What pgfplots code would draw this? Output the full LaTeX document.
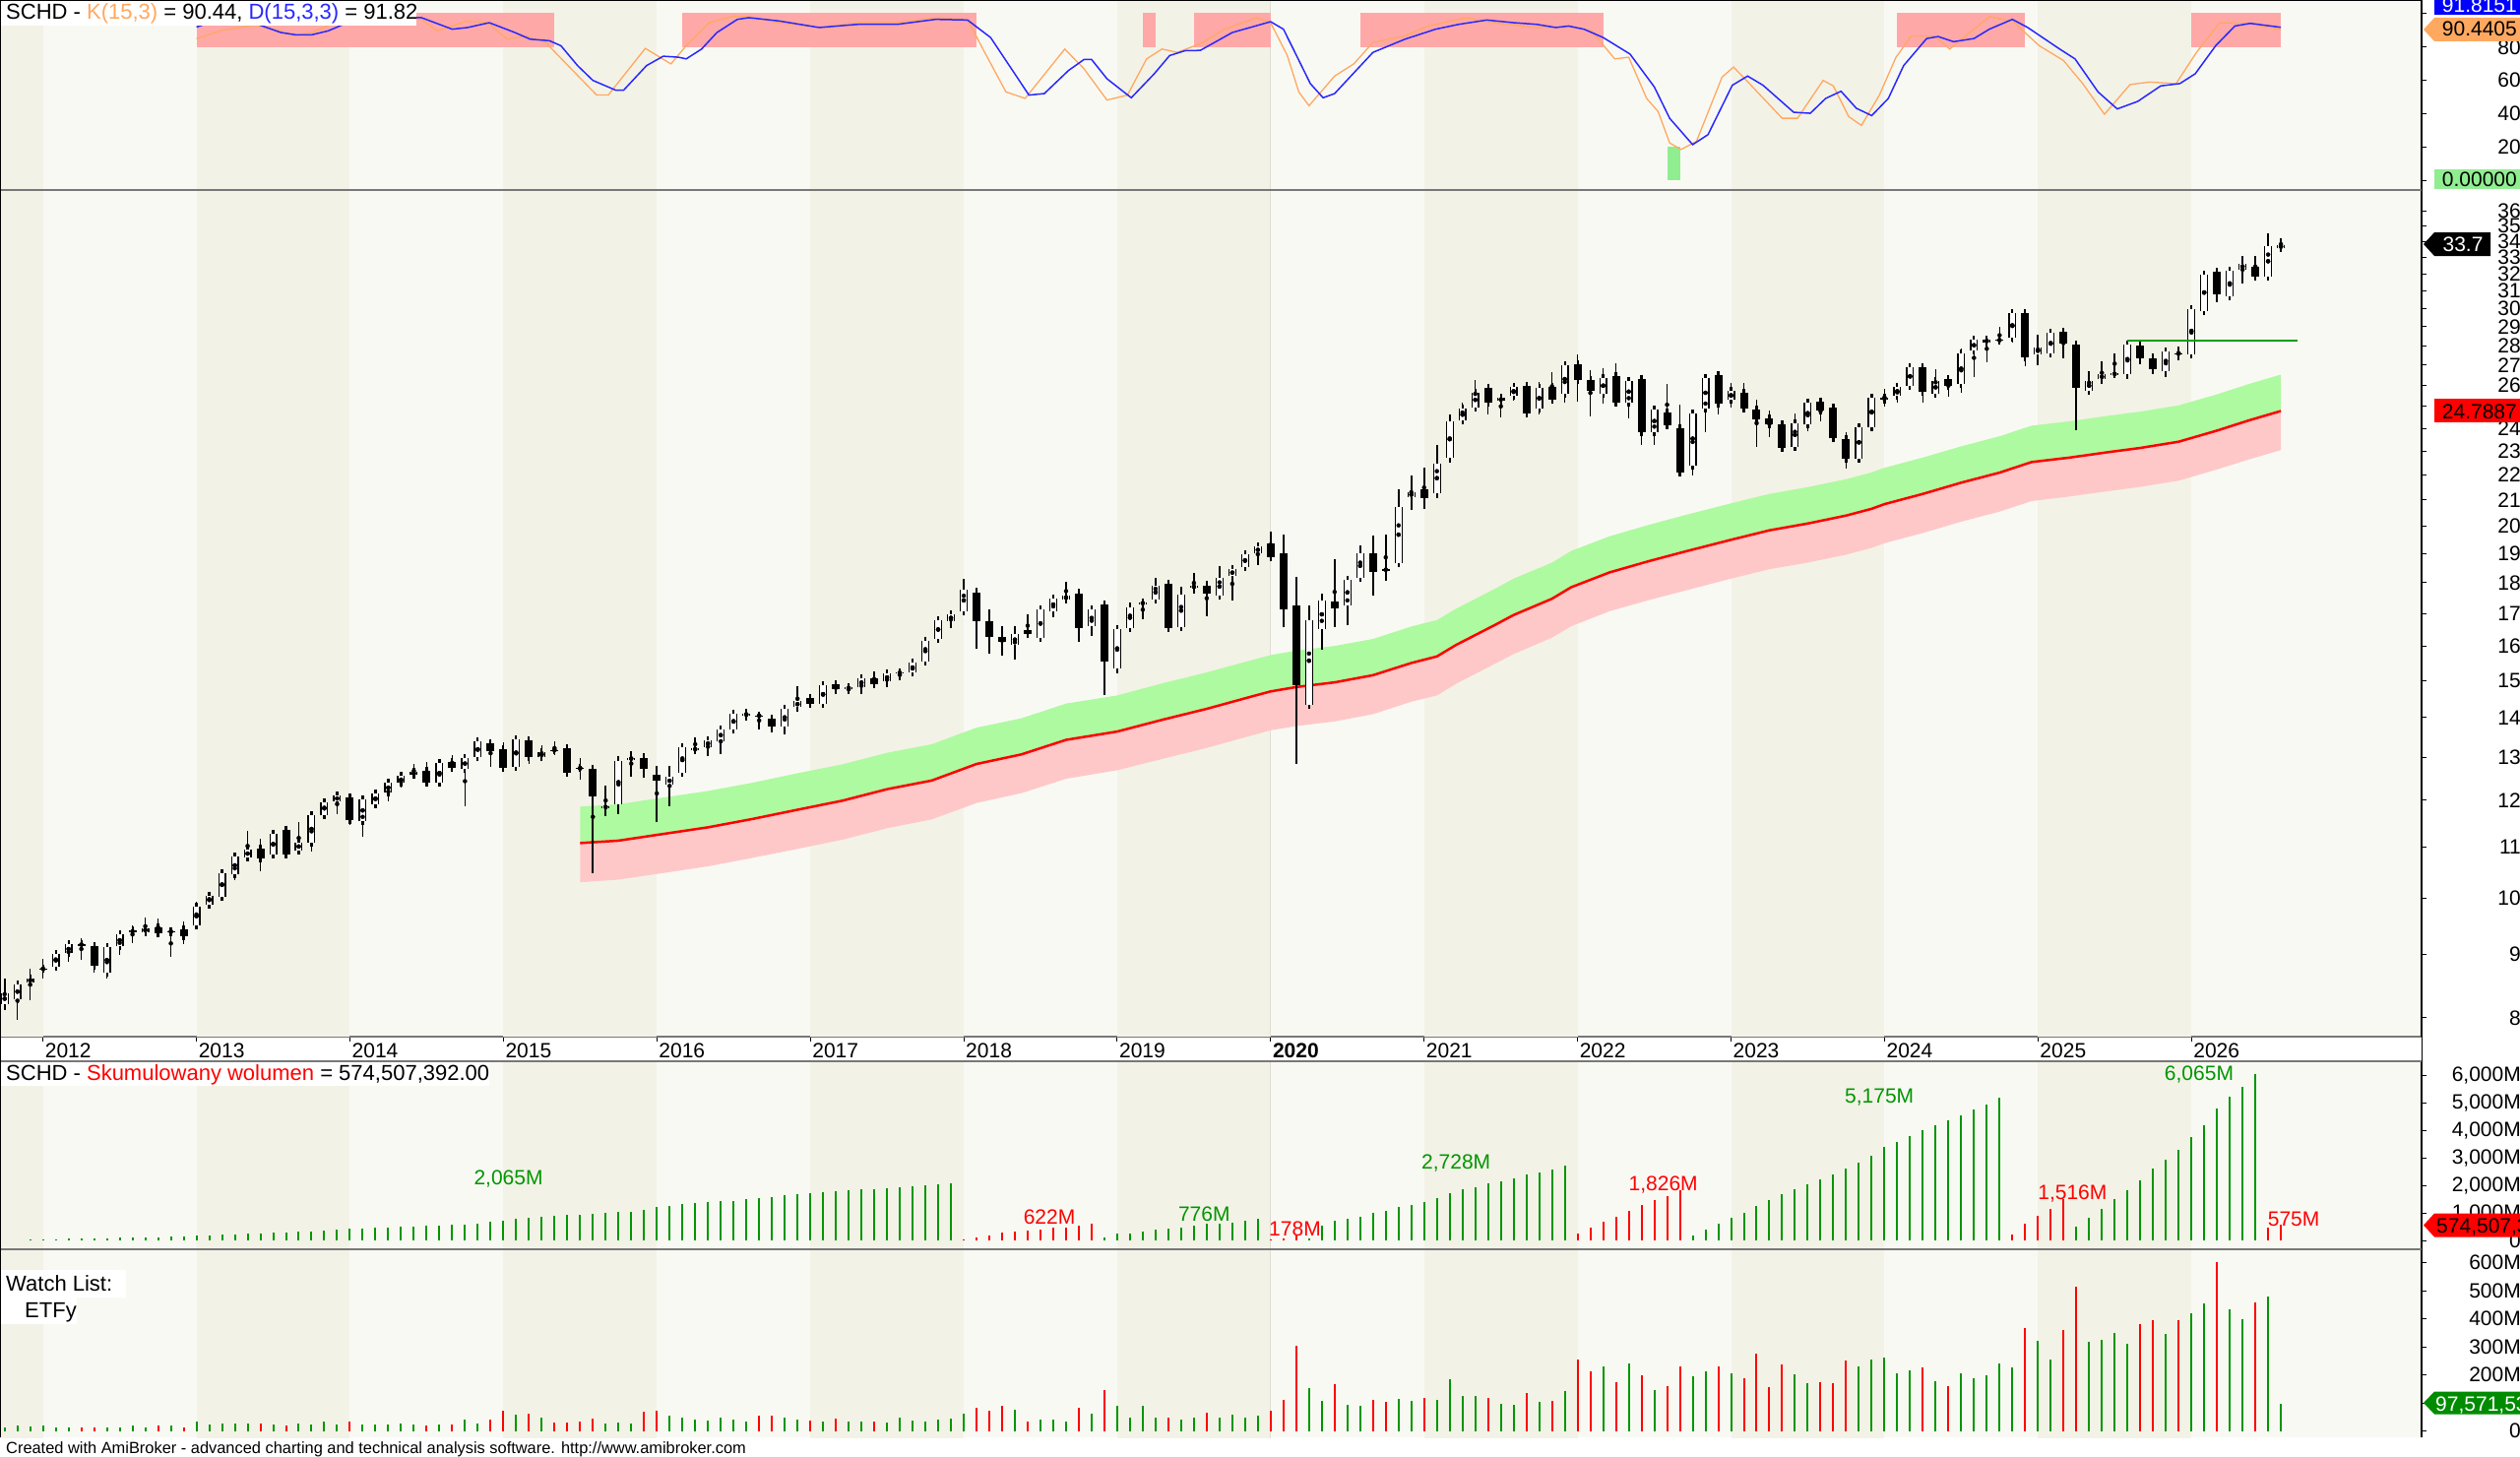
\documentclass[border=0pt]{standalone}
\usepackage{fontspec}
\setmainfont{Liberation Sans}
\usepackage{pgfplots}
\pgfplotsset{compat=1.18}
\usepackage{pgfplotstable}

\definecolor{bgL}{RGB}{249,249,244}
\definecolor{bgD}{RGB}{243,242,231}
\definecolor{kcol}{RGB}{255,168,96}
\definecolor{dcol}{RGB}{40,40,255}
\definecolor{pinkrect}{RGB}{255,168,168}
\definecolor{greenrect}{RGB}{144,238,144}
\definecolor{bandG}{RGB}{174,250,160}
\definecolor{bandP}{RGB}{255,200,200}
\definecolor{vgreen}{RGB}{0,150,0}
\definecolor{vred}{RGB}{255,0,0}
\definecolor{sep}{RGB}{120,120,120}
\definecolor{vline}{RGB}{222,222,212}
\definecolor{badgeorange}{RGB}{255,168,96}
\definecolor{badgegreen}{RGB}{144,238,144}
\definecolor{darkgreen}{RGB}{0,140,0}
\definecolor{hline}{RGB}{0,160,0}

\newcommand\fs{\fontsize{21}{25}\selectfont}
\newcommand\ft{\fontsize{22}{26}\selectfont}

\pgfplotstableread{
i o h l c v
0 8.21 8.60 8.12 8.37 14
1 8.28 8.55 7.97 8.52 18
2 8.55 8.76 8.26 8.61 15
3 8.76 8.93 8.60 8.77 20
4 8.80 9.06 8.78 9.01 13
5 9.02 9.21 8.88 9.17 12
6 9.18 9.28 8.91 9.16 11
7 9.15 9.22 8.71 8.81 13
8 8.70 9.14 8.61 9.12 13
9 9.14 9.41 8.99 9.35 14
10 9.39 9.50 9.19 9.41 18
11 9.39 9.64 9.34 9.45 12
12 9.47 9.62 9.32 9.36 18
13 9.39 9.41 8.97 9.40 18
14 9.43 9.57 9.17 9.32 14
15 9.50 9.94 9.46 9.84 32
16 9.88 10.11 9.85 10.05 22
17 10.02 10.50 10.02 10.48 25
18 10.46 10.80 10.34 10.80 27
19 10.79 11.33 10.71 10.94 25
20 10.97 11.16 10.52 10.77 26
21 10.85 11.32 10.78 11.27 22
22 11.36 11.38 10.85 10.85 20
23 10.93 11.52 10.85 11.09 27
24 11.08 11.74 10.91 11.67 23
25 11.68 12.04 11.63 11.96 35
26 11.98 12.14 11.69 12.10 22
27 12.06 12.08 11.46 11.56 32
28 11.54 12.06 11.21 12.01 23
29 11.90 12.19 11.89 12.16 22
30 12.18 12.42 11.97 12.39 23
31 12.39 12.57 12.28 12.55 25
32 12.58 12.85 12.50 12.65 23
33 12.67 12.89 12.40 12.40 20
34 12.39 12.87 12.31 12.86 22
35 12.88 13.05 12.69 12.74 23
36 12.72 13.00 11.87 12.98 41
37 13.00 13.45 12.92 13.39 28
38 13.35 13.43 12.77 13.16 41
39 13.20 13.37 12.74 12.74 73
40 12.78 13.49 12.70 13.45 58
41 13.43 13.49 12.85 13.01 61
42 13.00 13.29 12.90 13.12 49
43 13.18 13.39 13.06 13.17 29
44 13.23 13.24 12.63 12.63 29
45 12.75 12.98 12.48 12.74 32
46 12.73 12.80 10.47 12.08 43
47 11.83 12.34 11.65 11.87 28
48 11.90 13.02 11.70 12.92 29
49 12.96 13.16 12.54 12.98 28
50 12.99 13.11 12.52 12.73 70
51 12.58 12.79 11.52 12.44 73
52 12.35 12.79 11.86 12.54 55
53 12.62 13.35 12.60 13.25 47
54 13.17 13.49 13.15 13.23 41
55 13.25 13.49 13.03 13.43 37
56 13.40 13.72 13.07 13.70 47
57 13.70 14.20 13.59 14.11 40
58 14.08 14.22 13.93 14.09 32
59 14.06 14.15 13.70 14.04 53
60 13.98 14.00 13.62 13.77 55
61 13.77 14.33 13.57 14.24 47
62 14.27 14.85 14.15 14.44 40
63 14.52 14.54 14.33 14.36 37
64 14.37 14.92 14.30 14.88 35
65 14.91 14.96 14.64 14.76 43
66 14.76 14.88 14.64 14.82 35
67 14.82 15.07 14.64 15.07 35
68 15.07 15.27 14.82 14.91 32
69 14.99 15.22 14.83 15.19 29
70 15.21 15.32 15.00 15.23 47
71 15.22 15.56 15.12 15.52 37
72 15.54 16.27 15.54 16.16 35
73 16.21 16.83 16.16 16.79 40
74 16.76 17.08 16.55 16.96 43
75 17.08 18.12 17.02 17.76 61
76 17.68 17.83 15.91 16.74 84
77 16.74 17.12 15.77 16.28 73
78 16.28 16.61 15.71 16.11 90
79 16.03 16.61 15.61 16.35 76
80 16.48 16.98 16.25 16.35 35
81 16.25 17.15 16.22 17.12 40
82 17.08 17.58 16.87 17.49 40
83 17.45 18.03 17.42 17.57 35
84 17.64 17.79 16.11 16.55 81
85 16.59 17.23 16.31 17.12 63
86 17.30 17.30 14.59 15.54 146
87 15.33 16.57 15.21 16.52 88
88 16.55 17.36 16.50 17.18 49
89 17.30 17.42 16.82 17.36 90
90 17.45 18.18 17.42 17.91 49
91 17.98 18.00 16.53 16.55 47
92 16.57 17.88 16.53 17.61 41
93 17.83 18.34 17.65 17.90 49
94 17.91 18.07 16.90 17.65 65
95 17.57 18.57 17.46 18.18 49
96 18.23 18.51 17.42 18.46 57
97 18.54 19.03 18.52 18.97 47
98 19.01 19.37 18.60 19.27 55
99 19.37 19.80 18.85 18.87 72
100 19.00 19.70 16.58 17.12 111
101 17.25 18.21 12.84 14.88 304
102 14.34 17.25 14.30 16.79 151
103 16.52 17.64 15.89 17.42 108
104 17.37 18.81 16.58 17.17 166
105 17.27 18.21 16.63 18.09 92
106 18.16 19.29 18.09 19.00 88
107 19.00 19.64 17.57 18.35 111
108 18.46 19.70 18.05 18.43 104
109 18.66 21.44 18.62 20.72 113
110 21.10 21.99 20.62 21.32 108
111 21.44 22.32 20.67 21.07 116
112 21.27 23.25 21.07 22.48 111
113 22.73 24.61 22.50 24.31 186
114 24.36 25.18 24.26 24.88 123
115 24.97 26.24 24.94 25.65 125
116 25.90 25.99 24.61 25.18 117
117 25.26 25.51 24.50 25.40 96
118 25.51 26.10 25.26 25.93 92
119 25.98 26.05 24.50 24.69 135
120 24.88 26.15 24.64 25.88 105
121 25.93 26.65 25.26 25.30 108
122 25.60 27.15 25.18 27.01 143
123 27.06 27.56 25.23 26.25 256
124 26.28 26.75 24.53 25.76 213
125 25.60 26.84 25.13 26.38 230
126 26.47 27.10 25.15 25.18 175
127 25.18 26.33 24.45 26.22 242
128 26.33 26.38 23.25 23.85 199
129 23.81 24.91 23.25 24.85 146
130 24.74 26.06 24.10 24.15 160
131 24.00 25.10 22.10 22.12 230
132 22.40 24.80 22.00 24.69 195
133 24.91 26.42 23.85 26.38 213
134 26.50 26.55 24.64 25.13 230
135 25.30 26.10 24.97 25.72 205
136 25.65 26.10 24.85 24.88 187
137 24.85 25.30 23.17 24.40 275
138 24.45 24.80 23.60 24.18 157
139 24.20 24.26 23.05 23.14 236
140 23.20 24.67 23.02 24.23 201
141 24.20 25.30 23.89 25.18 172
142 25.22 25.26 24.31 24.80 174
143 24.94 25.02 23.41 23.56 172
144 23.51 23.85 22.26 22.66 251
145 22.69 24.15 22.63 24.07 230
146 24.05 25.50 24.03 25.40 256
147 25.31 25.85 25.00 25.43 260
148 25.51 26.13 25.20 25.93 205
149 25.96 26.96 25.93 26.92 216
150 26.92 26.96 25.20 25.68 228
151 25.60 26.79 25.51 26.22 178
152 26.33 26.50 25.48 25.96 160
153 26.05 27.85 25.63 27.60 205
154 27.74 28.33 26.41 28.31 187
155 28.18 28.54 27.14 28.31 198
156 28.28 29.00 28.10 28.30 242
157 28.41 29.91 28.18 29.75 228
158 29.75 29.79 26.97 27.39 368
159 27.56 28.58 27.02 27.91 322
160 27.60 28.67 27.53 28.67 254
161 28.72 28.91 27.36 28.10 359
162 28.04 28.06 23.91 25.88 515
163 25.76 26.71 25.55 26.22 318
164 26.30 27.18 26.05 26.54 324
165 26.55 27.60 26.55 26.58 350
166 26.57 28.15 26.33 28.04 309
167 28.01 28.01 27.06 27.36 382
168 27.36 27.60 26.54 26.80 394
169 26.71 27.78 26.41 27.71 344
170 27.62 27.96 27.27 27.56 394
171 27.56 30.03 27.36 30.00 418
172 29.85 32.04 29.80 31.98 455
173 32.12 32.12 30.36 30.80 602
174 30.67 32.28 30.46 32.22 433
175 32.28 33.10 31.43 32.64 400
176 32.45 33.10 31.80 31.86 458
177 31.86 34.50 31.86 33.68 478
178 33.60 34.21 33.45 33.75 98
}\ohlc

\pgfplotstableread{
i r
45 11.08
48 11.13
51 11.25
55 11.41
58.5 11.59
62 11.79
65.5 11.99
69 12.25
72.5 12.45
76 12.84
79.5 13.07
83 13.43
87 13.64
90.5 13.94
94 14.23
97.5 14.56
99 14.70
101 14.82
104 14.95
107 15.15
110 15.50
112 15.69
113.5 16.03
116.5 16.63
118 16.95
121 17.47
122.5 17.85
125.5 18.35
128.5 18.73
131.5 19.09
135 19.50
138 19.85
141 20.10
144 20.40
146 20.66
147 20.84
150 21.24
153 21.69
156 22.10
158.5 22.54
161.5 22.73
164.5 22.96
167 23.14
170 23.41
173 23.90
175.5 24.36
178 24.79
}\ma

\pgfplotstableread{
i v
15 85
17 90
19.5 93
21.6 89.7
22.5 86.7
24 88.7
25.2 92.6
27 97
29.3 98
32.6 96.6
33.8 89.7
36.2 95.6
37.8 94.6
39.3 84.7
40.8 86.7
42.3 82.8
44.8 63
46.3 51.2
47.2 51.2
50.1 79.2
52.1 69.9
53.3 80.8
55.1 94.6
57 98.6
58.2 98.2
60.6 94.6
63.7 91.7
66.7 94.6
69.8 94.6
72.8 97.6
75.3 96.6
76.5 78.8
78.3 53.1
79.8 49.2
82.9 78.8
84.4 67
86.2 48.2
87.8 51.2
89.3 72.9
90.5 78.8
91.7 76.8
93.5 82
95.4 90.7
97.9 97.6
99.0 94.6
100.3 74.9
101.2 53.1
102.0 44.8
104.0 62.6
105.5 69.9
107.0 82.8
109.5 86.7
111.3 92.6
114.3 97.6
116.8 94.2
119.8 91.7
122.3 92.2
124.1 89.7
125.9 72.9
127.0 73.9
128.4 49.2
129.3 41.3
130.2 22.5
131.1 18.6
132.3 23.5
134.3 62
135.2 68
136.3 59.2
139.0 37.3
140.2 37.3
142.2 60
143.0 56.7
144.2 38.3
145.2 33
146.6 51.2
147.9 73.9
149.1 86.7
150.9 86.7
152.1 78.8
153.4 87.1
155.2 98.2
157.0 95.6
159.1 80.8
161.0 71.9
162.5 58.1
164.2 39.7
166.2 57.5
167.7 59
169.8 58.1
171.4 76.8
173.2 94.6
175.3 94.2
178 90.44
}\Kt

\pgfplotstableread{
i v
15 92
17 97
19.8 93.6
21.6 88.7
22.8 87.3
24 87.3
25.3 89.7
26.5 93.6
28.5 97
31 98
32.6 97.6
35 90.7
36.2 91.7
37.9 94.6
39.9 88.7
41.1 84.7
42.6 83.8
43.5 80.8
44.8 68.9
46 60
47.8 54.1
48.4 54.1
50.2 68.9
51.5 74.5
52.7 73.9
53.3 72.9
54.5 78.8
55.7 88.7
57.3 96.6
58.2 97.6
60.6 95.6
63.7 91.7
66.7 93.6
69.8 93.6
72.8 96.6
75.3 96.2
77.1 85.7
78.9 65
80.1 51.2
81.3 52.1
83.2 66
84.4 72.5
85 72.5
86.2 61
88.1 49.6
89.9 64
91.1 74.9
92.3 77.8
93.5 78
96.0 88.7
99.0 95.2
100.0 90.7
100.9 76.8
102.1 58.1
103.1 49.6
104.0 52.1
105.2 62
107.0 76.8
109.5 84.7
111.9 90.7
113.7 93.6
115.9 96.2
118.0 94.6
119.8 93.6
121.3 91.7
122.3 92.6
123.5 90.7
125.0 85.7
127.1 75.8
129.0 56.1
130.2 37.3
132.0 21.5
133.2 27.5
135.1 57.1
136.3 62.6
137.5 57.1
139.9 40.9
141.2 40.3
142.4 49.2
143.6 53.5
144.8 43.3
146.0 38.9
147.3 49.2
148.5 68.9
150.3 85.1
151.2 86.3
152.4 83.2
154.0 85.1
155.2 90.7
157.0 96.6
158.2 91.7
160.7 78.8
161.9 72.9
163.7 53.1
165.2 42.9
166.8 47.4
168.6 56.7
170.1 58.1
171.3 64
172.9 80.8
174.4 92.6
175.6 94.2
178 91.82
}\Dt

\pgfplotstableread{
i cv g
2 36 1
3 48 1
4 48 1
5 60 1
6 60 1
7 71 1
8 71 1
9 95 1
10 95 1
11 107 1
12 119 1
13 131 1
14 143 1
15 167 1
16 190 1
17 202 1
18 214 1
19 238 1
20 262 1
21 286 1
22 298 1
23 310 1
24 333 1
25 357 1
26 393 1
27 417 1
28 429 1
29 452 1
30 476 1
31 488 1
32 512 1
33 524 1
34 536 1
35 560 1
36 583 1
37 619 1
38 667 1
39 726 1
40 774 1
41 821 1
42 869 1
43 893 1
44 917 1
45 940 1
46 976 1
47 1012 1
48 1036 1
49 1048 1
50 1095 1
51 1202 1
52 1250 1
53 1310 1
54 1345 1
55 1381 1
56 1417 1
57 1440 1
58 1488 1
59 1524 1
60 1560 1
61 1631 1
62 1667 1
63 1714 1
64 1750 1
65 1786 1
66 1810 1
67 1845 1
68 1857 1
69 1881 1
70 1929 1
71 1952 1
72 1988 1
73 2024 1
74 2065 1
75 24 0
76 119 0
77 179 0
78 274 0
79 321 0
80 357 0
81 381 0
82 452 0
83 460 0
84 536 0
85 622 0
86 119 1
87 238 1
88 262 1
89 321 1
90 393 1
91 417 1
92 476 1
93 524 1
94 595 1
95 620 1
96 655 1
97 714 1
98 776 1
99 24 0
100 83 0
101 178 0
102 83 1
103 536 1
104 714 1
105 774 1
106 869 1
107 1012 1
108 1071 1
109 1214 1
110 1298 1
111 1405 1
112 1524 1
113 1702 1
114 1845 1
115 1940 1
116 2060 1
117 2155 1
118 2262 1
119 2381 1
120 2476 1
121 2583 1
122 2728 1
123 238 0
124 452 0
125 690 0
126 857 0
127 1071 0
128 1286 0
129 1452 0
130 1607 0
131 1826 0
132 167 1
133 393 1
134 619 1
135 821 1
136 1012 1
137 1262 1
138 1452 1
139 1690 1
140 1869 1
141 2048 1
142 2226 1
143 2405 1
144 2619 1
145 2845 1
146 3095 1
147 3393 1
148 3571 1
149 3810 1
150 4024 1
151 4190 1
152 4369 1
153 4548 1
154 4762 1
155 4952 1
156 5175 1
157 202 0
158 595 0
159 893 0
160 1155 0
161 1516 0
162 500 1
163 833 1
164 1155 1
165 1488 1
166 1810 1
167 2179 1
168 2595 1
169 2917 1
170 3310 1
171 3750 1
172 4190 1
173 4786 1
174 5214 1
175 5595 1
176 6065 1
177 476 0
178 575 0
}\cum

\newcommand\bands[2]{%
  \addplot[fill=bgD, draw=none, forget plot] coordinates {(-2,#1)(3,#1)(3,#2)(-2,#2)};
  \addplot[fill=bgD, draw=none, forget plot] coordinates {(15,#1)(27,#1)(27,#2)(15,#2)};
  \addplot[fill=bgD, draw=none, forget plot] coordinates {(39,#1)(51,#1)(51,#2)(39,#2)};
  \addplot[fill=bgD, draw=none, forget plot] coordinates {(63,#1)(75,#1)(75,#2)(63,#2)};
  \addplot[fill=bgD, draw=none, forget plot] coordinates {(87,#1)(99,#1)(99,#2)(87,#2)};
  \addplot[fill=bgD, draw=none, forget plot] coordinates {(111,#1)(123,#1)(123,#2)(111,#2)};
  \addplot[fill=bgD, draw=none, forget plot] coordinates {(135,#1)(147,#1)(147,#2)(135,#2)};
  \addplot[fill=bgD, draw=none, forget plot] coordinates {(159,#1)(171,#1)(171,#2)(159,#2)};
  \addplot[vline, line width=1.2pt, forget plot] coordinates {(99,#1)(99,#2)};
}

\pgfplotsset{
  panel/.style={
    scale only axis, width=2460pt, xmin=-0.362, xmax=189.0,
    axis background/.style={fill=bgL},
    axis y line*=right,
    y axis line style={black, line width=1.5pt},
    ytick style={black, line width=1pt},
    tick align=outside, major tick length=5pt, minor tick length=0pt,
    scaled y ticks=false,
    yticklabel style={font=\fs, anchor=east, inner sep=0pt, xshift=96pt},
  },
}

\begin{document}
\begin{tikzpicture}
\fill[white] (0pt,0pt) rectangle (2560pt,-1480pt);
\path[use as bounding box] (0pt,0pt) rectangle (2560pt,-1480pt);

% ---------- stochastic panel ----------
\begin{axis}[panel, at={(0pt,0pt)}, anchor=north west, height=192pt,
  ymin=-5.1, ymax=108.2, axis x line=none,
  ytick={0,20,40,60,80,100}, yticklabels={,20,40,60,80,}]
\bands{-10}{120}
\addplot[fill=pinkrect, draw=none] coordinates {(15,80)(43,80)(43,100.5)(15,100.5)};
\addplot[fill=pinkrect, draw=none] coordinates {(53,80)(76,80)(76,100.5)(53,100.5)};
\addplot[fill=pinkrect, draw=none] coordinates {(89,80)(90,80)(90,100.5)(89,100.5)};
\addplot[fill=pinkrect, draw=none] coordinates {(93,80)(99,80)(99,100.5)(93,100.5)};
\addplot[fill=pinkrect, draw=none] coordinates {(106,80)(125,80)(125,100.5)(106,100.5)};
\addplot[fill=pinkrect, draw=none] coordinates {(148,80)(158,80)(158,100.5)(148,100.5)};
\addplot[fill=pinkrect, draw=none] coordinates {(171,80)(178,80)(178,100.5)(171,100.5)};
\addplot[fill=greenrect, draw=none] coordinates {(130,0)(131,0)(131,20)(130,20)};
\addplot[kcol, line width=1.3pt] table[x=i, y=v] {\Kt};
\addplot[dcol, line width=1.5pt] table[x=i, y=v] {\Dt};
\end{axis}

% ---------- price panel ----------
\begin{axis}[panel, at={(0pt,-193pt)}, anchor=north west, height=860pt,
  ymode=log, ymin=7.726, ymax=37.43,
  axis x line*=bottom, x axis line style={draw=sep, line width=1.5pt},
  xtick={3,15,27,39,51,63,75,87,99,111,123,135,147,159,171},
  xticklabels={2012,2013,2014,2015,2016,2017,2018,2019,\textbf{2020},2021,2022,2023,2024,2025,2026},
  xtick style={black, line width=1pt},
  xticklabel style={font=\fs, anchor=north west, inner sep=0pt, xshift=2pt, yshift=-2pt},
  ytick={8,9,10,11,12,13,14,15,16,17,18,19,20,21,22,23,24,25,26,27,28,29,30,31,32,33,34,35,36},
  yticklabels={8,9,10,11,12,13,14,15,16,17,18,19,20,21,22,23,24,25,26,27,28,29,30,31,32,33,34,35,36}]
\bands{5}{50}
% upper (green) half of the envelope
\addplot[fill=bandG, draw=none] coordinates {
(45,11.86)(48,11.91)(51,12.04)(55,12.21)(58.5,12.40)(62,12.62)(65.5,12.83)(69,13.11)(72.5,13.32)(76,13.74)(79.5,13.98)(83,14.37)(87,14.59)(90.5,14.92)(94,15.23)(97.5,15.58)(99,15.73)(101,15.86)(104,16.00)(107,16.21)(110,16.59)(112,16.79)(113.5,17.15)(116.5,17.79)(118,18.14)(121,18.69)(122.5,19.10)(125.5,19.63)(128.5,20.04)(131.5,20.43)(135,20.87)(138,21.24)(141,21.51)(144,21.83)(146,22.11)(147,22.30)(150,22.73)(153,23.21)(156,23.65)(158.5,24.12)(161.5,24.32)(164.5,24.57)(167,24.76)(170,25.05)(173,25.57)(175.5,26.07)(178,26.53)
(178,24.79)(175.5,24.36)(173,23.90)(170,23.41)(167,23.14)(164.5,22.96)(161.5,22.73)(158.5,22.54)(156,22.10)(153,21.69)(150,21.24)(147,20.84)(146,20.66)(144,20.40)(141,20.10)(138,19.85)(135,19.50)(131.5,19.09)(128.5,18.73)(125.5,18.35)(122.5,17.85)(121,17.47)(118,16.95)(116.5,16.63)(113.5,16.03)(112,15.69)(110,15.50)(107,15.15)(104,14.95)(101,14.82)(99,14.70)(97.5,14.56)(94,14.23)(90.5,13.94)(87,13.64)(83,13.43)(79.5,13.07)(76,12.84)(72.5,12.45)(69,12.25)(65.5,11.99)(62,11.79)(58.5,11.59)(55,11.41)(51,11.25)(48,11.13)(45,11.08)};
% lower (pink) half of the envelope
\addplot[fill=bandP, draw=none] coordinates {
(45,11.08)(48,11.13)(51,11.25)(55,11.41)(58.5,11.59)(62,11.79)(65.5,11.99)(69,12.25)(72.5,12.45)(76,12.84)(79.5,13.07)(83,13.43)(87,13.64)(90.5,13.94)(94,14.23)(97.5,14.56)(99,14.70)(101,14.82)(104,14.95)(107,15.15)(110,15.50)(112,15.69)(113.5,16.03)(116.5,16.63)(118,16.95)(121,17.47)(122.5,17.85)(125.5,18.35)(128.5,18.73)(131.5,19.09)(135,19.50)(138,19.85)(141,20.10)(144,20.40)(146,20.66)(147,20.84)(150,21.24)(153,21.69)(156,22.10)(158.5,22.54)(161.5,22.73)(164.5,22.96)(167,23.14)(170,23.41)(173,23.90)(175.5,24.36)(178,24.79)
(178,23.05)(175.5,22.65)(173,22.23)(170,21.77)(167,21.52)(164.5,21.35)(161.5,21.14)(158.5,20.96)(156,20.55)(153,20.17)(150,19.75)(147,19.38)(146,19.21)(144,18.97)(141,18.69)(138,18.46)(135,18.14)(131.5,17.75)(128.5,17.42)(125.5,17.07)(122.5,16.60)(121,16.25)(118,15.76)(116.5,15.47)(113.5,14.91)(112,14.59)(110,14.42)(107,14.09)(104,13.90)(101,13.78)(99,13.67)(97.5,13.54)(94,13.23)(90.5,12.96)(87,12.69)(83,12.49)(79.5,12.16)(76,11.94)(72.5,11.58)(69,11.39)(65.5,11.15)(62,10.96)(58.5,10.78)(55,10.61)(51,10.46)(48,10.35)(45,10.30)};
\addplot[red, line width=2.5pt] table[x=i, y=r] {\ma};
% wicks
\addplot[only marks, mark=none, forget plot,
  error bars/.cd, y dir=both, y explicit, error mark=none,
  error bar style={line width=1.6pt, black}]
  table[x=i, y expr={(\thisrow{h}+\thisrow{l})/2}, y error expr={(\thisrow{h}-\thisrow{l})/2}] {\ohlc};
% bodies (black)
\addplot[only marks, mark=none, forget plot,
  error bars/.cd, y dir=both, y explicit, error mark=-,
  error bar style={line width=8pt, black},
  error mark options={line width=2.2pt, mark size=4pt, black}]
  table[x=i, y expr={(\thisrow{o}+\thisrow{c})/2}, y error expr={abs(\thisrow{c}-\thisrow{o})/2}] {\ohlc};
% hollow up-candles
\addplot[only marks, mark=none, forget plot,
  error bars/.cd, y dir=both, y explicit, error mark=none,
  error bar style={line width=5.6pt, white}]
  table[x=i, y expr={(\thisrow{o}+\thisrow{c})/2}, y error expr={max(\thisrow{c}-\thisrow{o},0)/2}] {\ohlc};
\addplot[hline, line width=2pt] coordinates {(166,28.25) (179.3,28.25)};
\end{axis}

% ---------- cumulative volume panel ----------
\begin{axis}[panel, at={(0pt,-1078pt)}, anchor=north west, height=190pt,
  ymin=-286, ymax=6512, axis x line=none,
  ytick={0,1000,2000,3000,4000,5000,6000},
  yticklabels={0,{1,000M},{2,000M},{3,000M},{4,000M},{5,000M},{6,000M}}]
\bands{-1000}{8000}
\addplot[ycomb, vgreen, line width=2pt, mark=none] table[x=i, y expr={\thisrow{cv}*\thisrow{g}}] {\cum};
\addplot[ycomb, vred, line width=2pt, mark=none] table[x=i, y expr={\thisrow{cv}*(1-\thisrow{g})}] {\cum};
\node[text=vgreen, font=\fs] at (axis cs:39.4,2229) {2,065M};
\node[text=vred, font=\fs] at (axis cs:81.7,834) {622M};
\node[text=vgreen, font=\fs] at (axis cs:93.8,966) {776M};
\node[text=vred, font=\fs] at (axis cs:100.9,429) {178M};
\node[text=vgreen, font=\fs] at (axis cs:113.5,2826) {2,728M};
\node[text=vred, font=\fs] at (axis cs:129.7,2004) {1,826M};
\node[text=vgreen, font=\fs] at (axis cs:146.6,5188) {5,175M};
\node[text=vred, font=\fs] at (axis cs:161.7,1717) {1,516M};
\node[text=vgreen, font=\fs] at (axis cs:171.6,6046) {6,065M};
\node[text=vred, font=\fs] at (axis cs:179.0,787) {575M};
\end{axis}

% ---------- volume panel ----------
\begin{axis}[panel, at={(0pt,-1270pt)}, anchor=north west, height=190pt,
  ymin=-22.8, ymax=643.9, axis x line=none,
  ytick={0,100,200,300,400,500,600},
  yticklabels={0,100M,200M,300M,400M,500M,600M}]
\bands{-100}{800}
\addplot[ycomb, vgreen, line width=2pt, mark=none] table[x=i, y expr={\thisrow{c}>\thisrow{o} ? \thisrow{v} : 0}] {\ohlc};
\addplot[ycomb, vred, line width=2pt, mark=none] table[x=i, y expr={\thisrow{c}>\thisrow{o} ? 0 : \thisrow{v}}] {\ohlc};
\end{axis}

\begin{scope}[x=1pt, y=1pt]
% frame and separators
\draw[black, line width=1.5pt] (0,-0.75) -- (2460,-0.75);
\draw[sep, line width=2pt] (0,-192.5) -- (2460,-192.5);
\draw[sep, line width=2pt] (0,-1077.5) -- (2460,-1077.5);
\draw[sep, line width=2pt] (0,-1269) -- (2460,-1269);
\draw[black, line width=1pt] (0.5,0) -- (0.5,-1460);
\draw[black, line width=1.5pt] (2460.5,0) -- (2460.5,-1460);
% titles
\fill[white] (1,-1.5) rectangle (423,-26);
\node[anchor=base west, font=\ft, inner sep=0pt] at (6,-20) {SCHD - \textcolor{kcol}{K(15,3)} = 90.44, \textcolor{dcol}{D(15,3,3)} = 91.82};
\fill[white] (1,-1079) rectangle (497,-1103);
\node[anchor=base west, font=\ft, inner sep=0pt] at (6,-1097.5) {SCHD - \textcolor{red}{Skumulowany wolumen} = 574,507,392.00};
\fill[white] (1,-1290) rectangle (128,-1318);
\node[anchor=base west, font=\ft, inner sep=0pt] at (6,-1311) {Watch List:};
\fill[white] (1,-1318) rectangle (78,-1345);
\node[anchor=base west, font=\ft, inner sep=0pt] at (25,-1338.5) {ETFy};
% value badges
\fill[blue] (2473,0) rectangle (2560,-15);
\node[anchor=base east, text=white, font=\fs, inner sep=0pt] at (2557,-12.5) {91.8151};
\fill[badgeorange] (2462,-30) -- (2473,-18) -- (2560,-18) -- (2560,-42) -- (2473,-42) -- cycle;
\node[anchor=base east, font=\fs, inner sep=0pt] at (2557,-37) {90.4405};
\fill[badgegreen] (2473,-172) rectangle (2560,-192);
\node[anchor=base east, font=\fs, inner sep=0pt] at (2557,-189) {0.00000};
\fill[black] (2462,-248) -- (2473,-236) -- (2530,-236) -- (2530,-260) -- (2473,-260) -- cycle;
\node[anchor=base, text=white, font=\fs, inner sep=0pt] at (2502,-255.5) {33.7};
\fill[red] (2473,-405) rectangle (2560,-429);
\node[anchor=base east, font=\fs, inner sep=0pt] at (2557,-425) {24.7887};
\fill[red] (2462,-1244.5) -- (2473,-1232.5) -- (2560,-1232.5) -- (2560,-1256.5) -- (2473,-1256.5) -- cycle;
\node[anchor=base west, font=\fs, inner sep=0pt] at (2475,-1252.5) {574,507,392};
\fill[darkgreen] (2462,-1425) -- (2473,-1413.5) -- (2560,-1413.5) -- (2560,-1436.5) -- (2473,-1436.5) -- cycle;
\node[anchor=base west, text=white, font=\fs, inner sep=0pt] at (2474,-1433) {97,571,536};
% footer
\node[anchor=base west, font=\fontsize{16.4}{19}\selectfont, inner sep=0pt] at (6,-1476) {Created with AmiBroker - advanced charting and technical analysis software. http://www.amibroker.com};
\end{scope}
\end{tikzpicture}
\end{document}
